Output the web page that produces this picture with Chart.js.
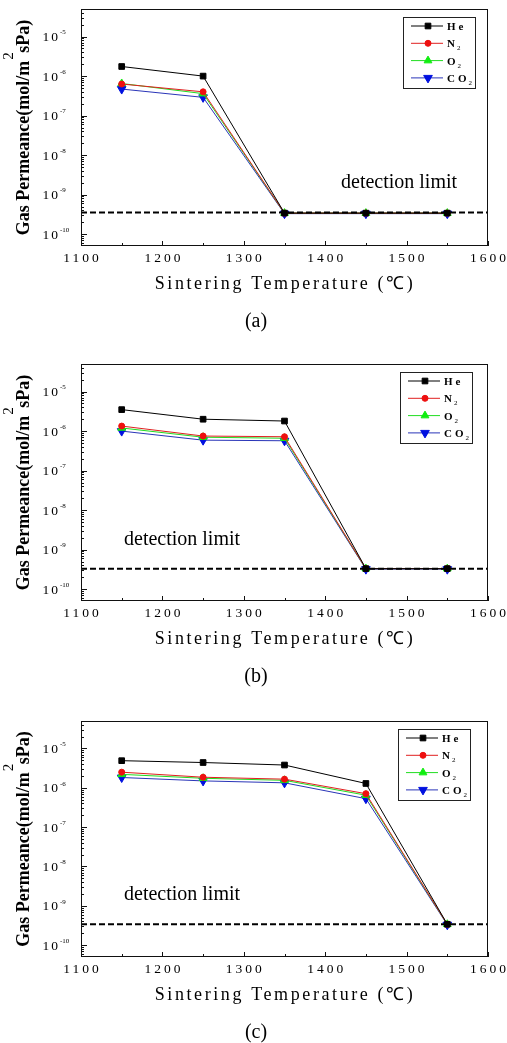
<!DOCTYPE html>
<html>
<head>
<meta charset="utf-8">
<script src="https://cdn.jsdelivr.net/npm/chart.js@4.4.0/dist/chart.umd.min.js"></script>
<style>
html, body { margin: 0; padding: 0; background: #fff; overflow: hidden; }
#wrap { position: relative; width: 507px; height: 1043px; }
canvas { position: absolute; left: 0; }
</style>
</head>
<body>
<div id="wrap">
    <canvas id="chartA" width="507" height="340" style="top:0px"></canvas>
    <canvas id="chartB" width="507" height="340" style="top:355px"></canvas>
    <canvas id="chartC" width="507" height="340" style="top:712px"></canvas>
</div>
<script>
// data
const temperatures = [1150, 1250, 1350, 1450, 1550];
const xTickLabels = [1100, 1200, 1300, 1400, 1500, 1600];
const yDecades = [-5, -6, -7, -8, -9, -10];
const gasNames = ['He', 'N2', 'O2', 'CO2'];

// (a)
const heA  = [1.75e-6, 1.0e-6, 3.4e-10, 3.4e-10, 3.4e-10];
const n2A  = [6.3e-7, 4.0e-7, 3.4e-10, 3.4e-10, 3.4e-10];
const o2A  = [6.5e-7, 3.6e-7, 3.4e-10, 3.4e-10, 3.4e-10];
const co2A = [4.7e-7, 2.9e-7, 3.3e-10, 3.3e-10, 3.3e-10];
const limitA = 3.55e-10;

// (b)
const heB  = [3.5e-6, 2.0e-6, 1.8e-6, 3.3e-10, 3.3e-10];
const n2B  = [1.34e-6, 7.5e-7, 7.2e-7, 3.3e-10, 3.3e-10];
const o2B  = [1.2e-6, 7.0e-7, 6.6e-7, 3.3e-10, 3.3e-10];
const co2B = [1.0e-6, 5.9e-7, 5.7e-7, 3.2e-10, 3.2e-10];
const limitB = 3.3e-10;

// (c)
const heC  = [4.9e-6, 4.4e-6, 3.8e-6, 1.29e-6, 3.4e-10];
const n2C  = [2.5e-6, 1.86e-6, 1.66e-6, 7.1e-7, 3.4e-10];
const o2C  = [2.2e-6, 1.75e-6, 1.55e-6, 6.5e-7, 3.4e-10];
const co2C = [1.83e-6, 1.5e-6, 1.34e-6, 5.3e-7, 3.3e-10];
const limitC = 3.4e-10;

const serif = '"Liberation Serif", "Times New Roman", serif';

const gasStyles = [
    {line: '#000000', fill: '#000000', pointStyle: 'rect', radius: 4, rotation: 0},
    {line: '#e02020', fill: '#ee1010', pointStyle: 'circle', radius: 3, rotation: 0},
    {line: '#20dd20', fill: '#10ee10', pointStyle: 'triangle', radius: 4.5, rotation: 0},
    {line: '#2a35b8', fill: '#0010e0', pointStyle: 'triangle', radius: 5, rotation: 180}
];

function drawSub(ctx, x, y, main, sub, size) {
    ctx.font = 'bold ' + size + 'px ' + serif;
    ctx.letterSpacing = '3px';
    ctx.textAlign = 'left';
    ctx.textBaseline = 'alphabetic';
    ctx.fillText(main, x, y);
    let w = ctx.measureText(main).width;
    if (sub) {
        ctx.font = Math.round(size * 0.6) + 'px ' + serif;
        ctx.letterSpacing = '0px';
        ctx.fillText(sub, x + w - 1, y + 3);
    }
}

const decor = {
    id: 'decor',
    beforeDraw(chart) {
        const ctx = chart.ctx;
        ctx.save();
        ctx.fillStyle = '#fff';
        ctx.fillRect(0, 0, chart.width, chart.height);
        ctx.restore();
    },
    afterDraw(chart, args, o) {
        const {ctx, chartArea: a, scales: {x, y}} = chart;
        ctx.save();
        ctx.strokeStyle = '#111';
        ctx.fillStyle = '#111';
        ctx.lineWidth = 1;
        ctx.strokeRect(a.left + 0.5, a.top + 0.5, a.right - a.left - 1, a.bottom - a.top - 1);

        // x ticks, inward
        ctx.beginPath();
        for (let i = 0; i < xTickLabels.length; i++) {
            const px = Math.round(x.getPixelForValue(xTickLabels[i])) + 0.5;
            ctx.moveTo(px, a.bottom);
            ctx.lineTo(px, a.bottom - 5);
            if (i < xTickLabels.length - 1) {
                const pm = Math.round(x.getPixelForValue((xTickLabels[i] + xTickLabels[i + 1]) / 2)) + 0.5;
                ctx.moveTo(pm, a.bottom);
                ctx.lineTo(pm, a.bottom - 3);
            }
        }
        // y ticks, inward
        for (let n = -11; n <= -5; n++) {
            for (let k = 1; k <= 9; k++) {
                const v = k * Math.pow(10, n);
                if (v < y.min || v > y.max) continue;
                const py = Math.round(y.getPixelForValue(v)) + 0.5;
                ctx.moveTo(a.left, py);
                ctx.lineTo(a.left + (k === 1 ? 6 : 3), py);
            }
        }
        ctx.stroke();

        // x tick labels
        ctx.fillStyle = '#000';
        ctx.font = '13.5px ' + serif;
        ctx.letterSpacing = '3px';
        ctx.textAlign = 'center';
        ctx.textBaseline = 'middle';
        xTickLabels.forEach(v => {
            ctx.fillText(String(v), x.getPixelForValue(v) + 1.5, a.bottom + 12);
        });

        // y tick labels 10^n
        yDecades.forEach(n => {
            const py = y.getPixelForValue(Math.pow(10, n));
            ctx.font = '13.5px ' + serif;
            ctx.letterSpacing = '2px';
            ctx.textAlign = 'right';
            ctx.textBaseline = 'middle';
            ctx.fillText('10', 60, py + 1);
            ctx.font = '7px ' + serif;
            ctx.letterSpacing = '0px';
            ctx.textAlign = 'left';
            ctx.fillText('-' + (-n), 60, py - 4);
        });

        // axis titles
        ctx.font = '18px ' + serif;
        ctx.letterSpacing = '2.6px';
        ctx.textAlign = 'center';
        ctx.textBaseline = 'middle';
        ctx.fillText('Sintering Temperature (℃)', (a.left + a.right) / 2 + 0.5, a.bottom + 38);

        ctx.save();
        ctx.translate(24, (a.top + a.bottom) / 2);
        ctx.rotate(-Math.PI / 2);
        ctx.letterSpacing = '0px';
        ctx.textBaseline = 'middle';
        ctx.textAlign = 'left';
        const p1 = 'Gas Permeance(mol/m', p2 = 'sPa)';
        ctx.font = 'bold 18px ' + serif;
        const w1 = ctx.measureText(p1).width, w2 = ctx.measureText(p2).width;
        const total = w1 + 8 + w2;
        let sx = -total / 2;
        ctx.fillText(p1, sx, 0);
        ctx.font = '15px ' + serif;
        ctx.fillText('2', sx + w1 + 1, -15);
        ctx.font = 'bold 18px ' + serif;
        ctx.fillText(p2, sx + w1 + 8, 0);
        ctx.restore();

        // detection limit label
        ctx.font = '20px ' + serif;
        ctx.letterSpacing = '0px';
        ctx.textAlign = 'left';
        ctx.textBaseline = 'middle';
        ctx.fillText('detection limit', a.left + o.labelX, a.top + o.labelY);

        // caption
        ctx.textAlign = 'center';
        ctx.fillText(o.caption, 256, a.bottom + 76);

        // legend
        const lx = a.right - o.legendRight - 72, ly = a.top + 8;
        ctx.strokeStyle = '#222';
        ctx.lineWidth = 1;
        ctx.strokeRect(lx + 0.5, ly + 0.5, 72, 71);
        const labels = [['He', ''], ['N', '2'], ['O', '2'], ['CO', '2']];
        chart.data.datasets.forEach((ds, i) => {
            if (i >= gasNames.length) return;
            const ry = ly + 9 + i * 17.3;
            ctx.strokeStyle = ds.borderColor;
            ctx.lineWidth = 1;
            ctx.beginPath();
            ctx.moveTo(lx + 8, ry);
            ctx.lineTo(lx + 40, ry);
            ctx.stroke();
            ctx.fillStyle = ds.pointBackgroundColor;
            ctx.strokeStyle = ds.pointBackgroundColor;
            Chart.helpers.drawPoint(ctx, {
                pointStyle: ds.pointStyle, radius: ds.pointRadius,
                rotation: ds.pointRotation, borderWidth: 1
            }, lx + 25, ry);
            ctx.fillStyle = '#000';
            drawSub(ctx, lx + 44, ry + 4, labels[i][0], labels[i][1], 11);
        });
        ctx.restore();
    }
};

function makeChart(id, series, limit, o) {
    const datasets = series.map((vals, i) => {
        const s = gasStyles[i];
        return {
            label: gasNames[i],
            data: temperatures.map((t, j) => ({x: t, y: vals[j]})),
            borderColor: s.line,
            backgroundColor: s.fill,
            pointBackgroundColor: s.fill,
            pointBorderColor: s.fill,
            pointStyle: s.pointStyle,
            pointRadius: s.radius,
            pointRotation: s.rotation,
            pointBorderWidth: 1,
            borderWidth: 1,
            tension: 0
        };
    });
    datasets.push({
        label: 'detection limit',
        data: [{x: 1100, y: limit}, {x: 1600, y: limit}],
        borderColor: '#000',
        borderWidth: 2,
        borderDash: [6, 3],
        pointRadius: 0,
        order: -1
    });
    return new Chart(document.getElementById(id), {
        type: 'line',
        data: {datasets},
        options: {
            responsive: false,
            animation: false,
            events: [],
            layout: {padding: {top: o.top, right: 19, left: 0, bottom: 0}},
            scales: {
                x: {
                    type: 'linear', min: 1100, max: 1600,
                    grid: {display: false}, border: {display: false},
                    ticks: {display: false},
                    afterFit(s) { s.height = 340 - o.top - o.plotH; }
                },
                y: {
                    type: 'logarithmic', min: 5e-11, max: 5e-5,
                    grid: {display: false}, border: {display: false},
                    ticks: {display: false},
                    afterFit(s) { s.width = 81; }
                }
            },
            plugins: {
                legend: {display: false},
                tooltip: {enabled: false},
                decor: o
            }
        },
        plugins: [decor]
    });
}

makeChart('chartA', [heA, n2A, o2A, co2A], limitA,
    {top: 9, plotH: 237, labelX: 260, labelY: 174, legendRight: 13, caption: '(a)'});
makeChart('chartB', [heB, n2B, o2B, co2B], limitB,
    {top: 9, plotH: 237, labelX: 43, labelY: 176, legendRight: 16, caption: '(b)'});
makeChart('chartC', [heC, n2C, o2C, co2C], limitC,
    {top: 9, plotH: 236, labelX: 43, labelY: 174, legendRight: 18, caption: '(c)'});
</script>
</body>
</html>
